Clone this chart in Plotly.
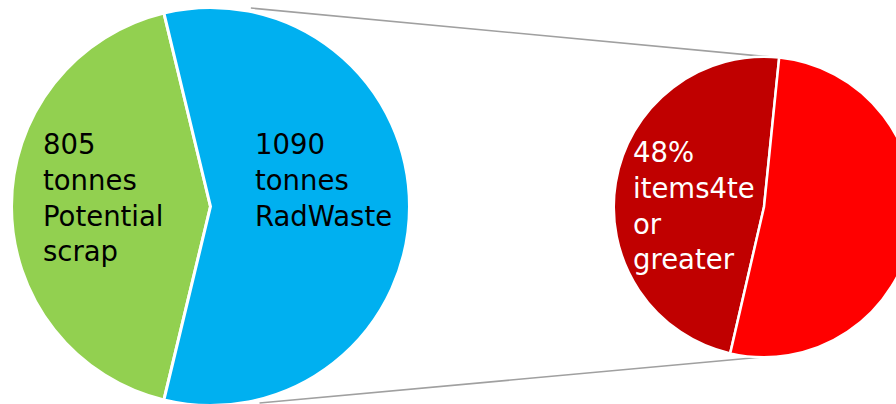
import math
import plotly.graph_objects as go

# ---- data ----
left_labels = ["Potential scrap", "RadWaste"]
left_values = [805, 1090]
left_unit = "tonnes"
right_labels = ["items4te or greater", "items under 4te"]
right_values = [48, 52]

left_colors = ["#92D050", "#00B0F0"]
right_colors = ["#C00000", "#FF0000"]

# ---- layout geometry (pixels) ----
W, H = 920, 412
L_CX, L_CY, L_R = 210.5, 206.5, 197.5
R_CX, R_CY, R_R = 764.0, 207.0, 149.0
L_LW, R_LW = 3.0, 2.5


def dom(cx, cy, r):
    return dict(x=[(cx - r) / W, (cx + r) / W], y=[1 - (cy + r) / H, 1 - (cy - r) / H])


# left pie: small slice centred on the left (9 o'clock)
theta_small = 360.0 * left_values[0] / sum(left_values)
left_rot = 270.0 - theta_small / 2.0
right_rot = 193.0

fig = go.Figure()
fig.add_trace(go.Pie(
    labels=left_labels, values=left_values, sort=False, direction="clockwise",
    rotation=left_rot, textinfo="none", hoverinfo="label+value",
    marker=dict(colors=left_colors, line=dict(color="white", width=L_LW)),
    domain=dom(L_CX, L_CY, L_R + L_LW / 2), showlegend=False,
))
fig.add_trace(go.Pie(
    labels=right_labels, values=right_values, sort=False, direction="clockwise",
    rotation=right_rot, textinfo="none", hoverinfo="label+percent",
    marker=dict(colors=right_colors, line=dict(color="white", width=R_LW)),
    domain=dom(R_CX, R_CY, R_R + R_LW / 2), showlegend=False,
))


def pt(cx, cy, r, ang):
    a = math.radians(ang)
    return (cx + r * math.sin(a)) / W, 1 - (cy - r * math.cos(a)) / H


shapes = []
for la, ra in [(11.5, 5.0), (166.0, 180.5)]:
    x0, y0 = pt(L_CX, L_CY, L_R + 5, la)
    x1, y1 = pt(R_CX, R_CY, R_R + 1, ra)
    shapes.append(dict(type="line", xref="paper", yref="paper", x0=x0, y0=y0, x1=x1, y1=y1,
                       line=dict(color="#A0A0A0", width=1.6), layer="below"))

FONT = "DejaVu Sans"
FS = 27.5
ann = []
txt_green = "<br>".join([str(left_values[0]), left_unit] + left_labels[0].split(" "))
txt_blue = "<br>".join([str(left_values[1]), left_unit] + left_labels[1].split(" "))
txt_red = "<br>".join([f"{right_values[0]}%"] + right_labels[0].split(" "))
for txt, px, py, col in [(txt_green, 41, 126, "black"), (txt_blue, 253, 126, "black"),
                         (txt_red, 631, 134, "white")]:
    ann.append(dict(text=txt, x=px / W, y=1 - py / H, xref="paper", yref="paper",
                    xanchor="left", yanchor="top", align="left", showarrow=False,
                    font=dict(family=FONT, size=FS, color=col)))

fig.update_layout(
    width=W, height=H, margin=dict(l=0, r=0, t=0, b=0),
    paper_bgcolor="white", plot_bgcolor="white",
    shapes=shapes, annotations=ann,
)

fig.write_html(
    "out.html",
    post_script="document.documentElement.style.overflow='hidden';document.body.style.overflow='hidden';document.body.style.margin='0';",
)
